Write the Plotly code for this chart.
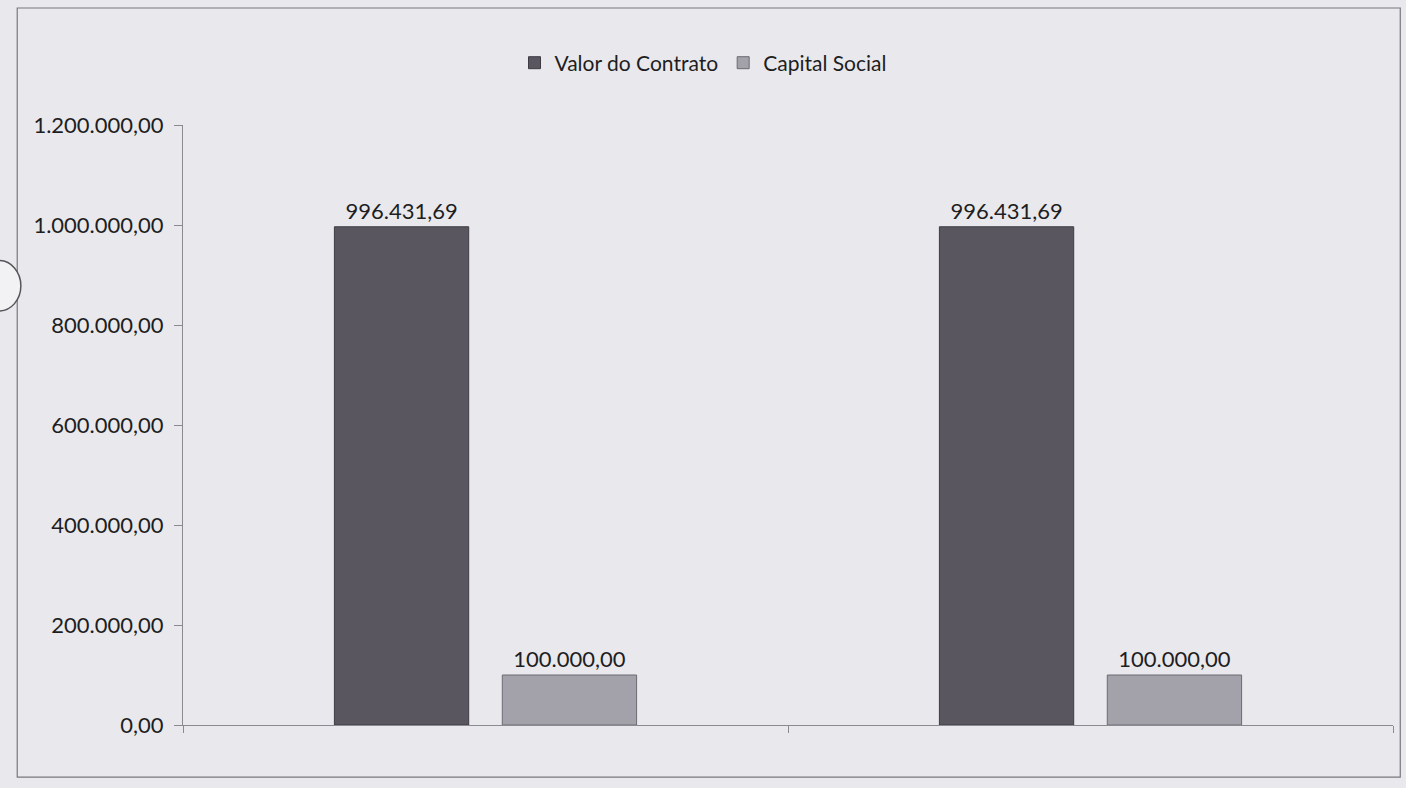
import plotly.graph_objects as go

# Dados do gráfico
categorias = ["Contrato 1", "Contrato 2"]
valor_contrato = [996431.69, 996431.69]
capital_social = [100000.00, 100000.00]
ticks_y = [0, 200000, 400000, 600000, 800000, 1000000, 1200000]

FONTE = "Lato, 'Open Sans', sans-serif"
COR_TEXTO = "#1e1e22"
FUNDO = "#e9e9ed"

fig = go.Figure()

fig.add_trace(go.Bar(
    name="Valor do Contrato",
    x=categorias,
    y=valor_contrato,
    marker=dict(color="#5a5660", line=dict(color="#3e3b44", width=1)),
    texttemplate="%{y:,.2f}",
    textposition="outside",
    textfont=dict(size=22, color=COR_TEXTO, family=FONTE),
    cliponaxis=False,
))

fig.add_trace(go.Bar(
    name="Capital Social",
    x=categorias,
    y=capital_social,
    marker=dict(color="#a3a1a9", line=dict(color="#6c6a72", width=1)),
    texttemplate="%{y:,.2f}",
    textposition="outside",
    textfont=dict(size=22, color=COR_TEXTO, family=FONTE),
    cliponaxis=False,
))

fig.update_layout(
    width=1406,
    height=788,
    margin=dict(l=183, r=13, t=125, b=63),
    paper_bgcolor=FUNDO,
    plot_bgcolor=FUNDO,
    separators=",.",
    barmode="group",
    bargap=0.445,
    bargroupgap=0.2,
    font=dict(family=FONTE, size=21, color=COR_TEXTO),
    showlegend=True,
    legend=dict(
        orientation="h",
        x=0.5, xref="container", xanchor="center",
        y=0.92, yref="container", yanchor="middle",
        font=dict(size=21, color=COR_TEXTO, family=FONTE),
        bgcolor="rgba(0,0,0,0)",
        itemwidth=30,
    ),
    xaxis=dict(
        showticklabels=False,
        showgrid=False,
        showline=True,
        linecolor="#8a8a90",
        linewidth=1,
        ticks="outside",
        tickson="boundaries",
        ticklen=7,
        tickcolor="#8a8a90",
        zeroline=False,
    ),
    yaxis=dict(
        range=[0, 1200000],
        tickvals=ticks_y,
        tickformat=",.2f",
        showgrid=False,
        showline=True,
        linecolor="#8a8a90",
        linewidth=1,
        ticks="outside",
        ticklen=8,
        tickcolor="#8a8a90",
        ticklabelstandoff=6,
        zeroline=False,
        tickfont=dict(size=22, color=COR_TEXTO, family=FONTE),
    ),
    shapes=[
        # moldura externa do gráfico
        dict(type="rect", xref="paper", yref="paper",
             x0=-0.137, x1=1.006, y0=-0.087, y1=1.195,
             line=dict(color="#77777d", width=1.2), fillcolor="rgba(0,0,0,0)",
             layer="below"),
        # furo de arquivamento na margem esquerda
        dict(type="circle", xref="paper", yref="paper",
             x0=-0.170, x1=-0.134, y0=0.69, y1=0.774,
             line=dict(color="#55555a", width=1.5), fillcolor="#f2f2f4"),
    ],
)

fig.write_html("out.html")
